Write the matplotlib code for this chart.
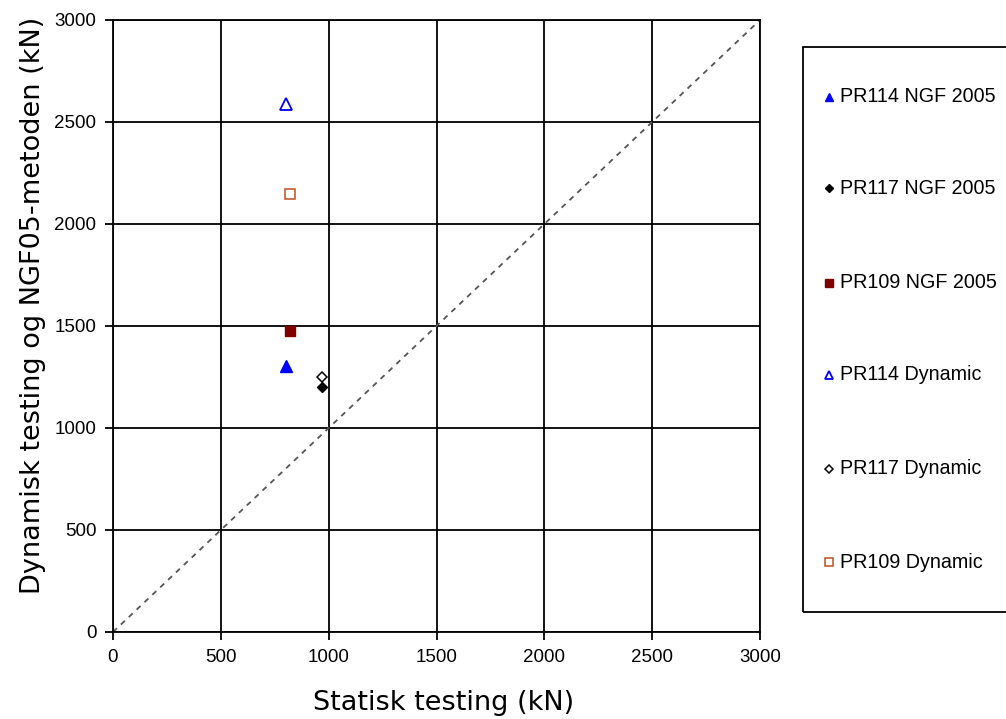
import matplotlib
matplotlib.use("Agg")
import matplotlib.pyplot as plt
from matplotlib.patches import Rectangle
from matplotlib.lines import Line2D

# Data
series_labels = ["PR114 NGF 2005", "PR117 NGF 2005", "PR109 NGF 2005",
                 "PR114 Dynamic", "PR117 Dynamic", "PR109 Dynamic"]
static_x = [800, 970, 820, 800, 970, 820]
dyn_y = [1305, 1200, 1475, 2590, 1250, 2145]
ticks = [0, 500, 1000, 1500, 2000, 2500, 3000]

styles = [
    dict(marker="^", mfc="#0000ff", mec="#0000ff", ms=8),
    dict(marker="D", mfc="black", mec="black", ms=5.5),
    dict(marker="s", mfc="#800000", mec="#800000", ms=7),
    dict(marker="^", mfc="white", mec="#0000ff", ms=8, mew=1.3),
    dict(marker="D", mfc="white", mec="black", ms=5.5, mew=1.1),
    dict(marker="s", mfc="white", mec="#c0501f", ms=6.5, mew=1.1),
]

tickfont = ["Liberation Sans", "DejaVu Sans"]

fig = plt.figure(figsize=(10.06, 7.19), dpi=100)
ax = fig.add_axes([113/1006, 1-632/719, (760-113)/1006, (632-20)/719])

ax.plot(ticks[::len(ticks)-1], ticks[::len(ticks)-1], ls=(0, (3, 3)), color="#555555", lw=1.3, zorder=2)

handles = []
for xv, yv, lab, st in zip(static_x, dyn_y, series_labels, styles):
    h, = ax.plot([xv], [yv], ls="none", label=lab, zorder=3, **st)
    handles.append(h)

ax.set_xlim(0, 3000)
ax.set_ylim(0, 3000)
ax.set_xticks(ticks)
ax.set_yticks(ticks)
ax.grid(True, color="black", lw=1.3)
ax.set_axisbelow(True)
for s in ax.spines.values():
    s.set_color("black")
    s.set_linewidth(1.3)
ax.tick_params(direction="out", length=6, width=1.3, colors="black", labelsize=13.5, pad=6)
for lbl in ax.get_xticklabels() + ax.get_yticklabels():
    lbl.set_family(tickfont)

fig.text(444/1006, 1-703/719, "Statisk testing (kN)", ha="center", va="center",
         fontsize=19.5, family="DejaVu Sans")
fig.text(33/1006, 1-305/719, "Dynamisk testing og NGF05-metoden (kN)", rotation=90,
         ha="center", va="center", fontsize=19.5, family="DejaVu Sans")

# Legend box
fig.patches.append(Rectangle((803/1006, 1-612/719), 210/1006, (612-47)/719,
                             transform=fig.transFigure, fill=False, ec="black", lw=1.3))
leg_y = [97, 188, 283, 375, 469, 562]
for h, yp, lab in zip(handles, leg_y, series_labels):
    fig.lines.append(Line2D([829/1006], [1-yp/719], transform=fig.transFigure,
                            ls="none", marker=h.get_marker(), mfc=h.get_mfc(), mec=h.get_mec(),
                            ms=h.get_ms()*0.8, mew=h.get_mew()))
    fig.text(840/1006, 1-yp/719, lab, ha="left", va="center", fontsize=14.2,
             family=["Liberation Sans", "DejaVu Sans"])

fig.savefig("out.png", dpi=100)
